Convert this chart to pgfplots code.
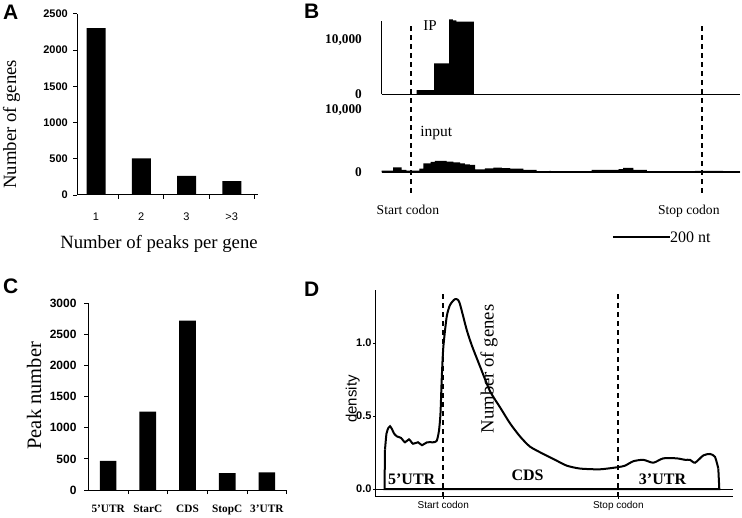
\documentclass[border=0pt]{standalone}
\usepackage{fontspec}
\setmainfont{Liberation Serif}
\setsansfont{Liberation Sans}
\usepackage{pgfplots}
\pgfplotsset{compat=1.18}
\newcommand{\fs}[1]{\fontsize{#1bp}{#1bp}\selectfont}

\begin{document}
\begin{tikzpicture}
\path[use as bounding box] (0,0) rectangle (742bp,518bp);
\pgfplotsset{
  base/.style={scale only axis, clip=false, tick align=outside, scaled ticks=false,
    axis line style={-, line width=1bp}, tick style={black, line width=0.9bp},
    /pgf/number format/assume math mode=true, /pgf/number format/1000 sep={}},
}

% ---------------- Panel A ----------------
\begin{axis}[base, at={(77bp,323bp)}, anchor=south west, width=181bp, height=181.3bp,
  axis x line*=bottom, axis y line*=left,
  xmin=0.58, xmax=4.58, ymin=0, ymax=2500,
  ybar, bar width=19bp,
  ytick={0,500,1000,1500,2000,2500}, major tick length=4bp, minor tick length=4bp,
  xtick={1,2,3,4}, xticklabels={1,2,3,>3}, major x tick style={draw=none},
  minor xtick={1.5,2.5,3.5,4.5},
  yticklabel style={font=\sffamily\bfseries\fs{11}, inner sep=0pt, anchor=east},
  yticklabel shift=5bp,
  xticklabel style={font=\sffamily\fs{11}, inner sep=0pt, anchor=base},
  xticklabel shift=21.7bp,
  ylabel={Number of genes}, ylabel style={at={(axis description cs:-0.361,0.3905)}, anchor=center, font=\fs{18.7}, inner sep=0pt},
  xlabel={Number of peaks per gene}, xlabel style={at={(axis description cs:0.453,-0.270)}, anchor=center, font=\fs{18.7}, inner sep=0pt},
]
\addplot[fill=black, draw=none] coordinates {(1,2300) (2,505) (3,262) (4,192)};
\end{axis}

% ---------------- Panel C ----------------
\begin{axis}[base, at={(88.3bp,28bp)}, anchor=south west, width=198.4bp, height=186.7bp,
  axis x line*=bottom, axis y line*=left,
  xmin=0.5, xmax=5.5, ymin=0, ymax=3000,
  ybar, bar width=16.7bp,
  ytick={0,500,1000,1500,2000,2500,3000}, major tick length=4bp, minor tick length=4bp,
  xtick={1,2,3,4,5}, xticklabels={5’UTR,StarC,CDS,StopC,3’UTR}, major x tick style={draw=none},
  minor xtick={1.5,2.5,3.5,4.5,5.5},
  yticklabel style={font=\sffamily\bfseries\fs{12}, inner sep=0pt, anchor=east},
  yticklabel shift=7.6bp,
  xticklabel style={font=\bfseries\fs{11.3}, inner sep=0pt, anchor=base},
  xticklabel shift=18.5bp,
  ylabel={Peak number}, ylabel style={at={(axis description cs:-0.2727,0.5046)}, anchor=center, font=\fs{20.5}, inner sep=0pt},
]
\addplot[fill=black, draw=none] coordinates {(1,470) (2,1260) (3,2720) (4,270) (5,285)};
\end{axis}

% ---------------- Panel B, IP track ----------------
\begin{axis}[base, at={(381.7bp,423.7bp)}, anchor=south west, width=358.3bp, height=73.6bp,
  axis x line*=bottom, axis y line*=left, axis line style={line width=1.2bp},
  xmin=-102, xmax=1156, ymin=0, ymax=13554,
  xtick=\empty, ytick={0,10000}, yticklabels={0,{10,000}}, major tick length=0pt,
  yticklabel style={font=\bfseries\fs{13.3}, inner sep=0pt, anchor=east},
  yticklabel shift=19.7bp,
]
\addplot[fill=black, draw=none, const plot] coordinates {
 (21,790) (82,5700) (135,13800) (148,13600) (160,13400) (222,13400)} \closedcycle;
\end{axis}

% ---------------- Panel B, input track ----------------
\begin{axis}[base, at={(381.7bp,345.5bp)}, anchor=south west, width=358.3bp, height=78.2bp,
  axis x line*=bottom, axis y line*=left, x axis line style={line width=2bp}, y axis line style={draw=none},
  xmin=-102, xmax=1156, ymin=0, ymax=12512,
  xtick=\empty, ytick={0,10000}, yticklabels={0,{10,000}}, major tick length=0pt,
  yticklabel style={font=\bfseries\fs{13.3}, inner sep=0pt, anchor=east},
  yticklabel shift=19.7bp,
]
\addplot[fill=black, draw=none, const plot] coordinates {
 (-102,290) (-70,290) (-62,830) (-40,830) (-32,400) (-15,290) (4,290) (30,600) (44,1470)
 (70,1700) (85,1840) (126,1730) (150,1600) (173,1470) (190,1300) (208,1200) (226,510)
 (260,640) (290,770) (320,700) (349,610) (395,400) (442,0) (487,240) (492,0) (524,130)
 (635,400) (730,550) (746,720) (775,720) (782,400) (829,0) (998,240) (1097,0) (1115,130) (1156,130)} \closedcycle;
% start / stop codon
\addplot[black, line width=1.6bp, dash pattern=on 5bp off 4bp] coordinates {(0,-3232) (0,23968)};
\addplot[black, line width=1.6bp, dash pattern=on 5bp off 4bp] coordinates {(1021.7,-3232) (1021.7,23968)};
% scale bar 200 nt
\addplot[black, line width=1.8bp] coordinates {(710,-10368) (910,-10368)};
\end{axis}

% ---------------- Panel D ----------------
\begin{axis}[base, at={(375bp,21.3bp)}, anchor=south west, width=358.3bp, height=206.7bp,
  axis x line*=bottom, axis y line*=left, axis line style={line width=0.9bp},
  xmin=375, xmax=733.3, ymin=-0.0527, ymax=1.363,
  ytick={0,0.5,1}, yticklabels={0.0,0.5,1.0}, major tick length=2bp,
  xtick={443.3,618.3}, xticklabels={Start codon,Stop codon},
  yticklabel style={font=\sffamily\bfseries\fs{11}, inner sep=0pt, anchor=east},
  yticklabel shift=1.3bp,
  xticklabel style={font=\sffamily\fs{10}, inner sep=0pt, anchor=base},
  xticklabel shift=9.6bp,
  ylabel={density}, ylabel style={at={(axis description cs:-0.062,0.4727)}, anchor=center, font=\sffamily\fs{15}, inner sep=0pt},
]
\addplot[black, line width=0.7bp] coordinates {(375,0) (733.3,0)};
\addplot[black, line width=2bp] coordinates {(385,0.27) (384.5,0) (719.3,0) (718.3,0.14)};
\addplot[black, line width=2bp, smooth, tension=0.4] coordinates {
 (385,0.27) (386.5,0.38) (388.5,0.42) (390,0.43) (392,0.41) (394,0.38) (397,0.36) (401,0.35)
 (405,0.32) (409,0.34) (413,0.31) (418,0.32) (422,0.30) (427,0.32) (433,0.32) (436.7,0.33)
 (439,0.40) (440.5,0.52) (441.7,0.75) (443.3,0.97) (446.7,1.18) (450,1.26) (455,1.30)
 (459.3,1.28) (466.7,1.09) (472,0.98) (480,0.84) (490,0.67) (500,0.56) (510,0.45) (520,0.36)
 (530,0.29) (543.3,0.24) (555,0.20) (566.7,0.16) (580,0.14) (600,0.135) (618.3,0.15)
 (625,0.16) (633.3,0.19) (643.3,0.20) (653.3,0.18) (663.3,0.21) (676.7,0.21) (685,0.20)
 (690,0.20) (695,0.18) (703.3,0.23) (710,0.24) (715,0.22) (718.3,0.14)};
\addplot[black, line width=1.8bp, dash pattern=on 5bp off 4bp] coordinates {(443.3,-0.0527) (443.3,1.34)};
\addplot[black, line width=1.8bp, dash pattern=on 5bp off 4bp] coordinates {(618.3,-0.0527) (618.3,1.34)};
\end{axis}

% ---------------- Annotations ----------------
\node[font=\sffamily\bfseries\fs{21}, inner sep=0pt] at (10.8bp,505.5bp) {A};
\node[font=\sffamily\bfseries\fs{21}, inner sep=0pt] at (311.7bp,506.3bp) {B};
\node[font=\sffamily\bfseries\fs{21}, inner sep=0pt] at (10.8bp,231.3bp) {C};
\node[font=\sffamily\bfseries\fs{21}, inner sep=0pt] at (311.7bp,229bp) {D};

\node[font=\fs{15}, inner sep=0pt] at (430bp,492.3bp) {IP};
\node[font=\fs{15.5}, inner sep=0pt] at (436.3bp,385bp) {input};
\node[font=\fs{13.6}, inner sep=0pt, anchor=base] at (407.9bp,303bp) {Start codon};
\node[font=\fs{13.6}, inner sep=0pt, anchor=base] at (688.8bp,303bp) {Stop codon};
\node[font=\fs{16}, inner sep=0pt, anchor=base west] at (670bp,275.3bp) {200 nt};

\node[font=\bfseries\fs{16}, inner sep=0pt, anchor=base] at (411.7bp,34bp) {5’UTR};
\node[font=\bfseries\fs{16}, inner sep=0pt, anchor=base] at (527.5bp,38bp) {CDS};
\node[font=\bfseries\fs{16}, inner sep=0pt, anchor=base] at (662.5bp,34bp) {3’UTR};
\node[font=\fs{18.7}, inner sep=0pt, rotate=90] at (489bp,149bp) {Number of genes};
\end{tikzpicture}
\end{document}
